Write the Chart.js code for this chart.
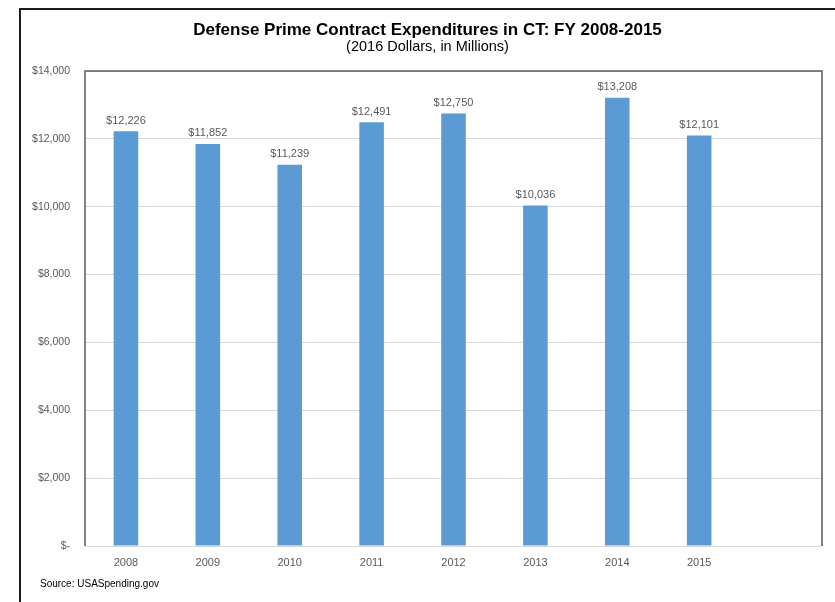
<!DOCTYPE html>
<html>
<head>
<meta charset="utf-8">
<script src="https://cdn.jsdelivr.net/npm/chart.js@4"></script>
<style>
  html, body { margin: 0; padding: 0; background: #fff; }
  #wrap { width: 835px; height: 602px; position: relative; }
</style>
</head>
<body>
<div id="wrap"><canvas id="myChart" width="835" height="602"></canvas></div>
<script>
// fiscal years, with a trailing empty slot on the category axis
const years = ["2008", "2009", "2010", "2011", "2012", "2013", "2014", "2015", ""];
// expenditures, millions of 2016 dollars
const spending = [12226, 11852, 11239, 12491, 12750, 10036, 13208, 12101, null];
const yTicks = [0, 2000, 4000, 6000, 8000, 10000, 12000, 14000];

const titleText = "Defense Prime Contract Expenditures in CT: FY 2008-2015";
const subtitleText = "(2016 Dollars, in Millions)";
const sourceText = "Source: USASpending.gov";

const greyText = "#595959";
const fontFamily = "'Liberation Sans', Arial, sans-serif";

function money(v) {
  if (v === 0) return "$-";
  return "$" + v.toLocaleString("en-US");
}

// outer frame, headings, plot border, bar value labels and the source note
const decorations = {
  id: "decorations",
  beforeDraw(chart) {
    const c = chart.ctx;
    c.save();
    c.fillStyle = "#fff";
    c.fillRect(0, 0, chart.width, chart.height);
    c.restore();
  },
  afterDraw(chart) {
    const c = chart.ctx;
    const a = chart.chartArea;
    c.save();
    // frame around the whole figure
    c.strokeStyle = "#1a1a1a";
    c.lineWidth = 2;
    c.beginPath();
    c.moveTo(20, chart.height);
    c.lineTo(20, 9);
    c.lineTo(chart.width, 9);
    c.stroke();

    // headings, centred inside the frame
    const mid = (20 + chart.width) / 2;
    c.fillStyle = "#000";
    c.textAlign = "center";
    c.textBaseline = "middle";
    c.font = "bold 17px " + fontFamily;
    c.fillText(titleText, mid, 30);
    c.font = "14.5px " + fontFamily;
    c.fillText(subtitleText, mid, 47);

    // plot area border (left, top, right)
    c.strokeStyle = "#595959";
    c.lineWidth = 1.5;
    c.beginPath();
    c.moveTo(a.left, a.bottom);
    c.lineTo(a.left, a.top);
    c.lineTo(a.right, a.top);
    c.lineTo(a.right, a.bottom);
    c.stroke();

    // value labels
    const meta = chart.getDatasetMeta(0);
    c.fillStyle = greyText;
    c.font = "11px " + fontFamily;
    c.textAlign = "center";
    c.textBaseline = "bottom";
    meta.data.forEach((bar, i) => {
      const v = spending[i];
      if (v == null) return;
      c.fillText(money(v), bar.x, bar.y - 5);
    });

    // source note
    c.fillStyle = "#000";
    c.font = "10px " + fontFamily;
    c.textAlign = "left";
    c.textBaseline = "middle";
    c.fillText(sourceText, 40, 584);
    c.restore();
  }
};

const ctx = document.getElementById("myChart");

new Chart(ctx, {
  type: "bar",
  data: {
    labels: years,
    datasets: [
      {
        label: "Expenditures",
        data: spending,
        backgroundColor: "#5B9BD5",
        barPercentage: 0.3,
        categoryPercentage: 1.0
      }
    ]
  },
  options: {
    responsive: false,
    animation: false,
    layout: {
      padding: { left: 0, right: 13, top: 71, bottom: 26 }
    },
    plugins: {
      legend: { display: false },
      tooltip: { enabled: false },
      title: { display: false },
      subtitle: { display: false }
    },
    scales: {
      x: {
        grid: { display: false, drawTicks: false },
        border: { display: false },
        ticks: {
          color: greyText,
          font: { family: fontFamily, size: 11 },
          padding: 10,
          maxRotation: 0,
          autoSkip: false
        },
        afterFit(scale) { scale.height = 30; }
      },
      y: {
        min: 0,
        max: 14000,
        afterBuildTicks(scale) {
          scale.ticks = yTicks.map(v => ({ value: v }));
        },
        grid: { color: "#d9d9d9", lineWidth: 1, drawTicks: false },
        border: { display: false },
        ticks: {
          color: greyText,
          font: { family: fontFamily, size: 10.5 },
          padding: 15,
          callback: v => money(v)
        },
        afterFit(scale) { scale.width = 85; }
      }
    }
  },
  plugins: [decorations]
});
</script>
</body>
</html>
